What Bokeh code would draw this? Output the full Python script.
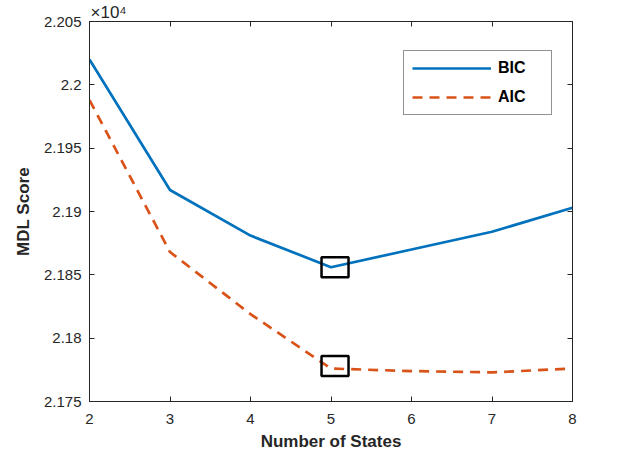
from bokeh.plotting import figure
from bokeh.models import (LinearAxis, FixedTicker, Legend, LegendItem,
                          Range1d)
from bokeh.embed import file_html
from bokeh.resources import INLINE

# ---- data ----
states = [2, 3, 4, 5, 6, 7, 8]
bic = [22020, 21917, 21881, 21856, 21870, 21884, 21903]
aic = [21988, 21868, 21819, 21776, 21774, 21773, 21776]
x_ticks = [2, 3, 4, 5, 6, 7, 8]
y_ticks = [21750, 21800, 21850, 21900, 21950, 22000, 22050]
y_tick_labels = ["2.175", "2.18", "2.185", "2.19", "2.195", "2.2", "2.205"]
best_state = 5
x_label = "Number of States"
y_label = "MDL Score"
exponent_label = "\u00d710\u2074"

BLUE = "#0072BD"
ORANGE = "#D95319"
AX = "#262626"
FONT = "Liberation Sans"

p = figure(width=607, height=453, output_backend="svg", toolbar_location=None,
           x_range=Range1d(2, 8), y_range=Range1d(21750, 22050),
           min_border_left=89, min_border_right=35, min_border_top=21,
           min_border_bottom=49, x_axis_location=None, y_axis_location=None)
p.background_fill_color = "white"
p.border_fill_color = "white"
p.xgrid.visible = False
p.ygrid.visible = False
p.outline_line_color = AX
p.outline_line_width = 1

p.title.text = exponent_label
p.title.align = "left"
p.title.text_font = FONT
p.title.text_font_size = "17px"
p.title.text_font_style = "normal"
p.title.text_color = AX
p.title.standoff = 0
p.title.offset = 1


def style(ax, labels=True):
    ax.axis_line_color = AX
    ax.axis_line_width = 1
    ax.major_tick_line_color = AX
    ax.major_tick_in = 5
    ax.major_tick_out = 0
    ax.minor_tick_line_color = None
    ax.major_label_text_color = AX
    ax.major_label_text_font = FONT
    ax.major_label_text_font_size = "15px"
    ax.major_label_standoff = 8 if labels else 0
    ax.axis_label_text_font = FONT
    ax.axis_label_text_font_style = "bold"
    ax.axis_label_text_font_size = "17px"
    ax.axis_label_text_color = AX
    if not labels:
        ax.major_label_overrides = {t: "" for t in ax.ticker.ticks}


xb = LinearAxis(ticker=FixedTicker(ticks=x_ticks), axis_label=x_label)
style(xb)
xb.major_label_standoff = 12
xb.axis_label_standoff = 5
p.add_layout(xb, "below")

yl = LinearAxis(ticker=FixedTicker(ticks=y_ticks), axis_label=y_label)
style(yl)
yl.major_label_overrides = {t: s for t, s in zip(y_ticks, y_tick_labels)}
yl.axis_label_standoff = 8
p.add_layout(yl, "left")

xt = LinearAxis(ticker=FixedTicker(ticks=x_ticks))
style(xt, labels=False)
p.add_layout(xt, "above")

yr = LinearAxis(ticker=FixedTicker(ticks=y_ticks))
style(yr, labels=False)
p.add_layout(yr, "right")

r_bic = p.line(states, bic, line_color=BLUE, line_width=2.7)
r_aic = p.line(states, aic, line_color=ORANGE, line_width=2.7, line_dash="10 7")

i = states.index(best_state)
p.rect([best_state + 0.05, best_state + 0.05], [bic[i], aic[i] + 2],
       width=27, height=20, width_units="screen", height_units="screen",
       fill_color=None, line_color="black", line_width=2.5)

legend = Legend(items=[LegendItem(label="BIC", renderers=[r_bic]),
                       LegendItem(label="AIC", renderers=[r_aic])],
                location=(314, 286))
legend.label_text_font = FONT
legend.label_text_font_style = "bold"
legend.label_text_font_size = "16px"
legend.label_text_color = "black"
legend.glyph_width = 79
legend.glyph_height = 16
legend.label_height = 16
legend.label_width = 45
legend.label_standoff = 7
legend.spacing = 11
legend.padding = 8
legend.margin = 0
legend.border_line_color = AX
legend.border_line_width = 1
legend.background_fill_color = "white"
p.add_layout(legend, "center")

open("out.html", "w").write(file_html(p, INLINE))
